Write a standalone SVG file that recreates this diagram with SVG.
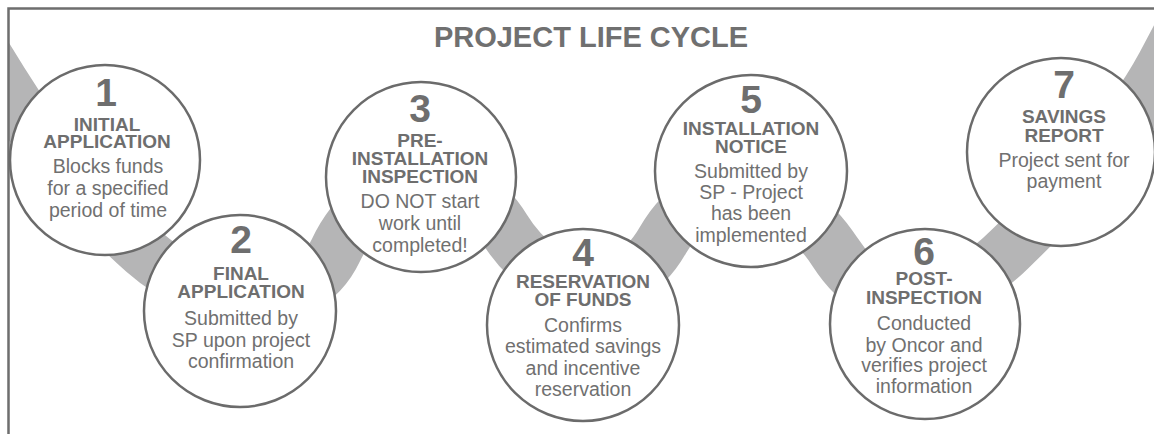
<svg xmlns="http://www.w3.org/2000/svg" width="1154" height="434" viewBox="0 0 1154 434">
  <style>
    .title { font-family: "Liberation Sans", Arial, sans-serif; font-weight: bold; font-size: 29px; fill: #707070; text-anchor: middle; }
    .num { font-family: "Liberation Sans", Arial, sans-serif; font-weight: bold; font-size: 39px; fill: #6e6e6e; text-anchor: middle; }
    .head { font-family: "Liberation Sans", Arial, sans-serif; font-weight: bold; font-size: 19px; fill: #6e6e6e; text-anchor: middle; }
    .body { font-family: "Liberation Sans", Arial, sans-serif; font-size: 19.5px; fill: #707070; text-anchor: middle; }
    .step { fill: #ffffff; stroke: #6b6b6b; stroke-width: 2.5; }
    .ribbon { fill: none; stroke: #b5b5b6; stroke-width: 53; stroke-linejoin: round; }
    .frame { fill: none; stroke: #6e6e6e; stroke-width: 2.5; }
  </style>
  <defs>
    <clipPath id="frameClip">
      <rect x="8.5" y="8.5" width="1146" height="426"/>
    </clipPath>
  </defs>

  <rect width="1154" height="434" fill="#ffffff"/>

  <!-- wavy band joining the steps -->
  <g id="connectors" clip-path="url(#frameClip)">
    <path class="ribbon" d="M -40,14 L 2,82 C 41,145 89,203 144,252 C 204,305 302,322 336,250 C 372,174 460,156 504,228 C 546,296 623,310 663,240 C 705,166 789,181 835,252 C 881,323 949,309 1010,249 C 1068,193 1125,135 1163,65 L 1191,12"/>
  </g>

  <!-- frame: top and left rules only -->
  <path class="frame" d="M 8.5,434 L 8.5,8.5 L 1154,8.5"/>

  <text class="title" x="591" y="47">PROJECT LIFE CYCLE</text>

  <g id="step1">
    <circle class="step" cx="105" cy="160" r="95"/>
    <text class="num" x="106" y="106">1</text>
    <text class="head"><tspan x="107" y="131">INITIAL</tspan><tspan x="107" y="148">APPLICATION</tspan></text>
    <text class="body"><tspan x="108" y="173">Blocks funds</tspan><tspan x="108" y="195">for a specified</tspan><tspan x="108" y="217">period of time</tspan></text>
  </g>

  <g id="step2">
    <circle class="step" cx="240" cy="311" r="96"/>
    <text class="num" x="241" y="253">2</text>
    <text class="head"><tspan x="241" y="280">FINAL</tspan><tspan x="241" y="298">APPLICATION</tspan></text>
    <text class="body"><tspan x="241" y="325">Submitted by</tspan><tspan x="241" y="347">SP upon project</tspan><tspan x="241" y="368">confirmation</tspan></text>
  </g>

  <g id="step3">
    <circle class="step" cx="421" cy="177" r="95"/>
    <text class="num" x="420" y="122">3</text>
    <text class="head"><tspan x="420" y="147">PRE-</tspan><tspan x="420" y="165">INSTALLATION</tspan><tspan x="420" y="183">INSPECTION</tspan></text>
    <text class="body"><tspan x="420" y="208">DO NOT start</tspan><tspan x="420" y="230">work until</tspan><tspan x="420" y="252">completed!</tspan></text>
  </g>

  <g id="step4">
    <circle class="step" cx="583" cy="325" r="96"/>
    <text class="num" x="583" y="266">4</text>
    <text class="head"><tspan x="583" y="288">RESERVATION</tspan><tspan x="583" y="306">OF FUNDS</tspan></text>
    <text class="body"><tspan x="583" y="332">Confirms</tspan><tspan x="583" y="353">estimated savings</tspan><tspan x="583" y="375">and incentive</tspan><tspan x="583" y="396">reservation</tspan></text>
  </g>

  <g id="step5">
    <circle class="step" cx="751" cy="171" r="96"/>
    <text class="num" x="751" y="113">5</text>
    <text class="head"><tspan x="751" y="135">INSTALLATION</tspan><tspan x="751" y="153">NOTICE</tspan></text>
    <text class="body"><tspan x="751" y="178">Submitted by</tspan><tspan x="751" y="199">SP - Project</tspan><tspan x="751" y="220">has been</tspan><tspan x="751" y="242">implemented</tspan></text>
  </g>

  <g id="step6">
    <circle class="step" cx="925" cy="324" r="95"/>
    <text class="num" x="924" y="265">6</text>
    <text class="head"><tspan x="924" y="285">POST-</tspan><tspan x="924" y="304">INSPECTION</tspan></text>
    <text class="body"><tspan x="924" y="330">Conducted</tspan><tspan x="924" y="352">by Oncor and</tspan><tspan x="924" y="372">verifies project</tspan><tspan x="924" y="393">information</tspan></text>
  </g>

  <g id="step7">
    <circle class="step" cx="1061" cy="152" r="94"/>
    <text class="num" x="1064" y="98">7</text>
    <text class="head"><tspan x="1064" y="123">SAVINGS</tspan><tspan x="1064" y="142">REPORT</tspan></text>
    <text class="body"><tspan x="1064" y="167">Project sent for</tspan><tspan x="1064" y="188">payment</tspan></text>
  </g>
</svg>
